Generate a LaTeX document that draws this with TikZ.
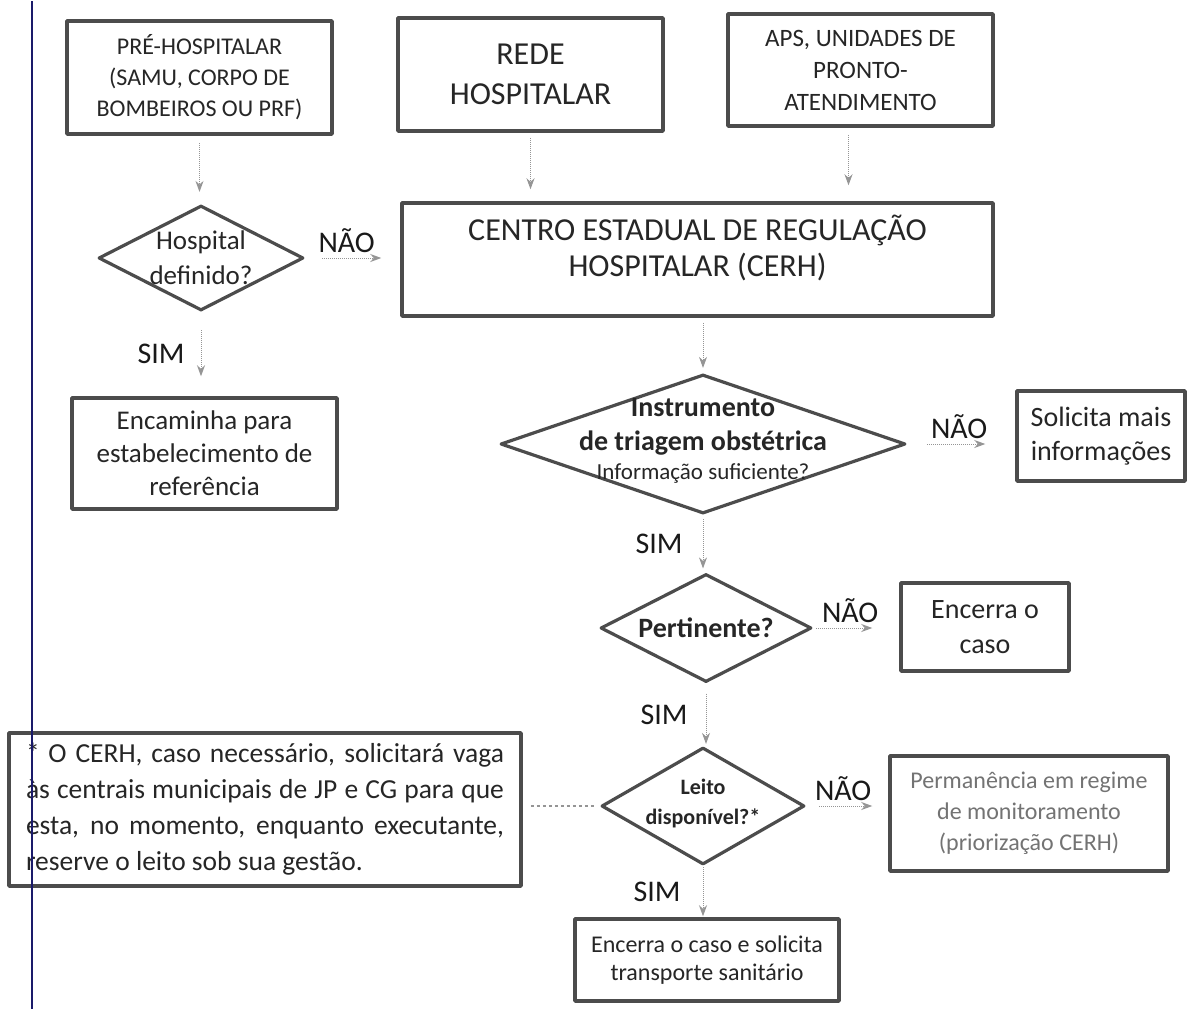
\documentclass[tikz,border=0pt]{standalone}
\usepackage{fontspec}
\setmainfont{Carlito}
\usepackage{tikz}
\usetikzlibrary{arrows.meta,shapes.geometric}

\definecolor{ink}{HTML}{262626}
\definecolor{frame}{HTML}{4C4C4C}
\definecolor{wire}{HTML}{959595}
\definecolor{scanline}{HTML}{1A1A6A}

\begin{document}
\begin{tikzpicture}[x=1pt, y=-1pt, >={Stealth[length=11pt,width=8pt]}, line join=round]

  \tikzstyle{box}=[draw=frame, line width=3.5pt, fill=white, text=ink, align=center, inner sep=3pt]
  \tikzstyle{decision}=[diamond, draw=frame, line width=3.2pt, inner sep=0pt]
  \tikzstyle{dtext}=[text=ink, align=center, inner sep=0pt]
  \tikzstyle{flow}=[->, draw=wire, densely dotted, line width=1pt, shorten <=4pt, shorten >=4pt]
  \tikzstyle{answer}=[text=black!90, font=\fontsize{30}{30}\selectfont, inner sep=2pt]

  \fill[white] (0,0) rectangle (1190,1008);

  % entradas
  \node[box, minimum width=265pt, minimum height=113pt, font=\fontsize{24}{31}\selectfont] (pre) at (199.5,76.5)
    {PRÉ-HOSPITALAR\\(SAMU, CORPO DE\\BOMBEIROS OU PRF)};
  \node[box, minimum width=265pt, minimum height=113pt, font=\fontsize{32}{40}\selectfont] (rede) at (530.5,73.5)
    {REDE\\HOSPITALAR};
  \node[box, minimum width=265pt, minimum height=112pt, font=\fontsize{25}{32}\selectfont] (aps) at (860.5,69)
    {APS, UNIDADES DE\\PRONTO-\\ATENDIMENTO};

  % central de regulacao
  \node[box, minimum width=591pt, minimum height=113pt] (cerh) at (697.5,258.5) {};
  \node[dtext, font=\fontsize{32}{36}\selectfont] (cerhtext) at ([yshift=12pt]cerh.center)
    {CENTRO ESTADUAL DE REGULAÇÃO\\HOSPITALAR (CERH)};

  % ramo pre-hospitalar
  \node[decision, minimum width=205pt, minimum height=105pt] (hosp) at (201,257) {};
  \node[dtext, font=\fontsize{27}{35}\selectfont] (hosptext) at (hosp) {Hospital\\definido?};
  \node[box, minimum width=265pt, minimum height=111pt, font=\fontsize{27}{33}\selectfont] (encam) at (204.5,452.5)
    {Encaminha para\\estabelecimento de\\referência};

  % coluna de decisoes
  \node[decision, minimum width=405pt, minimum height=139pt] (instr) at (703,443) {};
  \node[dtext, font=\fontsize{28}{34}\selectfont] (instrtext) at ([yshift=3pt]instr.center)
    {\textbf{Instrumento}\\\textbf{de triagem obstétrica}\\[-5pt]{\fontsize{23}{28}\selectfont Informação suficiente?}};
  \node[box, minimum width=168pt, minimum height=90pt, font=\fontsize{28}{34}\selectfont] (solic) at (1101,435)
    {Solicita mais\\informações};

  \node[decision, minimum width=211pt, minimum height=108pt] (pert) at (706,627) {};
  \node[dtext, font=\bfseries\fontsize{28}{34}\selectfont] (perttext) at (pert) {Pertinente?};
  \node[box, minimum width=168pt, minimum height=88pt, font=\fontsize{28}{35}\selectfont] (encerra) at (985,626)
    {Encerra o\\caso};

  \node[decision, minimum width=203pt, minimum height=117pt] (leito) at (703,805) {};
  \node[dtext, font=\bfseries\fontsize{22}{30}\selectfont] (leitotext) at ([yshift=3pt]leito.center) {Leito\\disponível?*};
  \node[box, minimum width=278pt, minimum height=115pt, text=black!55, font=\fontsize{24}{31}\selectfont] (perman) at (1029,812.5)
    {Permanência em regime\\de monitoramento\\(priorização CERH)};

  \node[box, minimum width=264pt, minimum height=82pt, font=\fontsize{24}{28}\selectfont] (final) at (707,959)
    {Encerra o caso e solicita\\transporte sanitário};

  \node[box, align=left, minimum width=512pt, minimum height=153pt, font=\fontsize{27.5}{36}\selectfont] (nota) at (265,808.5)
    {\makebox[478pt][s]{* O CERH, caso necessário, solicitará vaga}\\
     \makebox[478pt][s]{às centrais municipais de JP e CG para que}\\
     \makebox[478pt][s]{esta, no momento, enquanto executante,}\\
     reserve o leito sob sua gestão.};

  % ligacoes
  \draw[flow, shorten <=7pt, shorten >=12pt] (pre.south) -- (pre.south |- hosp.north);
  \draw[flow, shorten <=5pt, shorten >=12pt] (rede.south) -- (rede.south |- cerh.north);
  \draw[flow, shorten <=7pt, shorten >=16pt] ([xshift=-12pt]aps.south) -- ([xshift=-12pt]aps.south |- cerh.north);

  \draw[flow, shorten <=17pt, shorten >=19pt] (hosp.east) -- node[answer, above=3pt, xshift=-6pt] {NÃO} (hosp.east -| cerh.west);
  \draw[flow, shorten <=18pt, shorten >=20pt] (hosp.south) -- node[answer, left=14pt] {SIM} (hosp.south |- encam.north);

  \draw[flow, shorten <=5pt, shorten >=5pt] (instr.north |- cerh.south) -- (instr.north);
  \draw[flow, shorten <=20pt, shorten >=30pt] (instr.east) -- node[answer, above=3pt, xshift=-2pt] {NÃO} (instr.east -| solic.west);
  \draw[flow] (instr.south) -- node[answer, left=18pt] {SIM} (instr.south |- pert.north);

  \draw[flow, shorten <=3pt, shorten >=27pt] (pert.east) -- node[answer, above=3pt, xshift=-6pt] {NÃO} (pert.east -| encerra.west);
  \draw[flow, shorten <=10pt, shorten >=2pt] (pert.south) -- node[answer, left=16pt] {SIM} (pert.south |- leito.north);

  \draw[flow, shorten <=13pt, shorten >=16pt] (leito.east) -- node[answer, above=3pt, xshift=-4pt] {NÃO} (leito.east -| perman.west);
  \draw[flow, shorten <=1pt, shorten >=1pt] (leito.south) -- node[answer, left=20pt] {SIM} (leito.south |- final.north);

  \draw[wire, dashed, line width=2pt, shorten <=8pt, shorten >=6pt] (nota.east |- leito.west) -- (leito.west);

  % linha da digitalizacao
  \draw[scanline, line width=2pt] (32,0) -- (32,1008);

\end{tikzpicture}
\end{document}
